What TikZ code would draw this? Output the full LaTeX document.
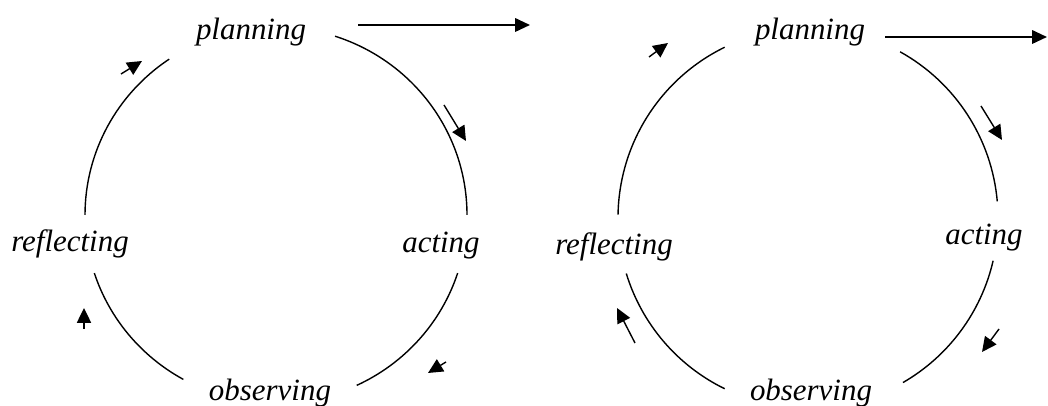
\documentclass[tikz,border=0pt]{standalone}
\usepackage{fontspec}
\setmainfont{Liberation Serif}
\usetikzlibrary{arrows.meta}

\tikzset{
  stage/.style={font=\itshape\fontsize{22}{26}\selectfont, inner sep=0pt, anchor=base},
  turn/.style={line width=.35mm, -{Triangle[length=10.5pt,width=10pt]}},
  onward/.style={line width=.5mm, -{Triangle[length=10.5pt,width=9.5pt]}}
}

\begin{document}
\begin{tikzpicture}[x=0.025cm,y=0.025cm]
  \useasboundingbox (0,0) rectangle (1048,406);
  % first cycle
  \begin{scope}
  \coordinate (cL) at (276,191);
  \node[stage] (planL) at (251,366) {planning};
  \node[stage] (actL)  at (441,153) {acting};
  \node[stage] (obsL)  at (270,5)   {observing};
  \node[stage] (refL)  at (70,154)  {reflecting};
  \foreach \a/\b in {72/0,124/180,198/241,-18/-65}
           {\draw [line width=.35mm] ([shift={(\a:191 and 188)}]cL) arc[start angle=\a,end angle=\b,x radius=191,y radius=188];}
  \draw[turn] (444,301) -- (466,265);
  \draw[turn] (446,44) -- (428,33);
  \draw[turn] (84,77) -- (84,98);
  \draw[turn] (121,332) -- (142,345);
  \end{scope}
  %
  \draw[onward] (358,381) -- (530,381);
  %
  % second cycle
  \begin{scope}
  \coordinate (cR) at (808,188);
  \node[stage] (planR) at (810,366) {planning};
  \node[stage] (actR)  at (984,161) {acting};
  \node[stage] (obsR)  at (811,5)   {observing};
  \node[stage] (refR)  at (614,151) {reflecting};
  \foreach \a/\b in {61/5,116/179,197/244,-13/-60}
           {\draw [line width=.35mm] ([shift={(\a:190)}]cR) arc[start angle=\a,end angle=\b,radius=190];}
  \draw[turn] (981,300) -- (1002,266);
  \draw[turn] (999,77) -- (982,54);
  \draw[turn] (635,63) -- (617,98);
  \draw[turn] (649,349) -- (668,363);
  \end{scope}
  %
  \draw[onward] (885,369) -- (1047,369);
\end{tikzpicture}
\end{document}
